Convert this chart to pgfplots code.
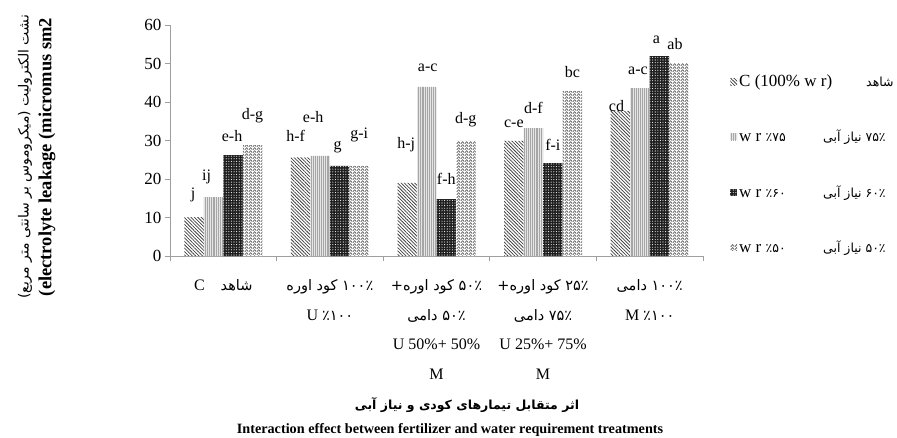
\documentclass[border=0pt]{standalone}
\usepackage{fontspec}
\setmainfont{Liberation Serif}
\newfontfamily\fa[Script=Arabic]{DejaVu Sans}
\TeXXeTstate=1
\usepackage{pgfplots}
\usepackage{pgfplotstable}
\pgfplotsset{compat=1.18}
\usetikzlibrary{patterns.meta}

% herringbone-like fill for the 50% water requirement bars
\tikzdeclarepattern{
  name=zigzag,
  type=uncolored,
  bottom left={(0pt,0pt)},
  top right={(3.6pt,2.8pt)},
  tile size={(3.6pt,2.8pt)},
  code={
    \draw[line width=0.8pt] (0pt,0.4pt) -- (1.8pt,2.4pt) -- (3.6pt,0.4pt);
  }
}

\newcommand{\lbl}{\fontsize{16}{29.5}\selectfont}
\newcommand{\fasz}{\fontsize{14.5}{29.5}\selectfont}
\newcommand{\falg}{\fontsize{12.5}{15}\selectfont}

% x = treatment, y = leakage, lab = mean separation letters, dx/dy = label offset (pt)
\pgfplotstableread{
x y    lab dx dy
0 10.1 j   -1 12
1 25.6 h-f -5 13
2 19.0 h-j -1 28
3 29.9 c-e 0  10
4 37.7 cd  -4 -4
}\wrHundred
\pgfplotstableread{
x y    lab dx dy
0 15.3 ij  -7 10
1 26.0 e-h -7 30
2 43.9 a-c 1  12
3 33.2 d-f 0  11
4 43.6 a-c -2 10
}\wrSeventyFive
\pgfplotstableread{
x y    lab dx dy
0 26.2 e-h -1 10
1 23.4 g   -2 10
2 14.8 f-h 0  11
3 24.1 f-i 0  10
4 51.9 a   -3 9
}\wrSixty
\pgfplotstableread{
x y    lab dx dy
0 28.8 d-g 0  19
1 23.4 g-i 0  21
2 29.9 d-g 0  11
3 42.9 bc  0  10
4 50.1 ab  -4 10
}\wrFifty

\begin{document}
\begin{tikzpicture}
\useasboundingbox (-170pt,-181pt) rectangle (727pt,256pt);
\begin{axis}[
  at={(0pt,0pt)}, anchor=south west,
  width=533pt, height=231pt, scale only axis,
  xmin=-0.5, xmax=4.5, ymin=0, ymax=60,
  ytick={0,10,...,60},
  axis x line=bottom, axis y line=left,
  axis line style={-, draw=gray!75, line width=0.8pt},
  tick align=outside,
  major tick length=5pt,
  tick style={draw=gray!75, line width=0.8pt},
  xtick={-0.5,0.5,1.5,2.5,3.5,4.5},
  x tick label as interval,
  xticklabels={
    {C\quad{\fasz\fa\beginR شاهد\endR}},
    {{\fasz\fa\beginR ۱۰۰٪ کود اوره\endR}\\U {\fasz\fa ٪۱۰۰}},
    {{\fasz\fa\beginR ۵۰٪ کود اوره+\endR}\\{\fasz\fa\beginR ۵۰٪ دامی\endR}\\U 50\%+ 50\%\\M},
    {{\fasz\fa\beginR ۲۵٪ کود اوره+\endR}\\{\fasz\fa\beginR ۷۵٪ دامی\endR}\\U 25\%+ 75\%\\M},
    {{\fasz\fa\beginR ۱۰۰٪ دامی\endR}\\M {\fasz\fa ٪۱۰۰}}
  },
  xticklabel style={align=center, font=\lbl, anchor=north, yshift=-15pt},
  yticklabel style={font=\fontsize{17}{20}\selectfont},
  /pgf/number format/assume math mode=true,
  ybar=0pt, bar width=19.5pt,
  clip=false,
  legend style={
    at={(1.045,0.802)}, anchor=north west,
    draw=none, fill=none, font=\fontsize{17}{20}\selectfont,
    row sep=38pt, cells={anchor=west},
  },
  legend image code/.code={
    \draw[draw=none,#1] (0pt,-3.5pt) rectangle (7pt,3.5pt);
  },
  lettered/.style={
    nodes near coords,
    point meta=explicit symbolic,
    visualization depends on={\thisrow{dx}\as\labdx},
    visualization depends on={\thisrow{dy}\as\labdy},
    every node near coord/.append style={font=\lbl, anchor=south, inner sep=3pt,
      xshift=\labdx pt, yshift=\labdy pt},
  },
]
% control (100% water requirement)
\addplot[draw=none, fill=white, lettered,
  postaction={pattern={Lines[angle=-45,distance=2.4pt,line width=0.75pt]}, pattern color=black!75}]
  table[x=x, y=y, meta=lab] {\wrHundred};
% 75% water requirement
\addplot[draw=none, fill=gray!20, lettered,
  postaction={pattern={Lines[angle=90,distance=1.9pt,line width=0.6pt]}, pattern color=gray!70}]
  table[x=x, y=y, meta=lab] {\wrSeventyFive};
% 60% water requirement
\addplot[draw=none, fill=black!88, lettered,
  postaction={pattern={Dots[distance=2.6pt,radius=0.55pt]}, pattern color=white}]
  table[x=x, y=y, meta=lab] {\wrSixty};
% 50% water requirement
\addplot[draw=none, fill=white, lettered,
  postaction={pattern=zigzag, pattern color=black!60}]
  table[x=x, y=y, meta=lab] {\wrFifty};
\addlegendentry{C (100\% w r)\hspace{2em}{\falg\fa\beginR شاهد\endR}}
\addlegendentry{w r {\falg\fa ٪۷۵}\hspace{2.2em}{\falg\fa\beginR ۷۵٪ نیاز آبی\endR}}
\addlegendentry{w r {\falg\fa ٪۶۰}\hspace{2.2em}{\falg\fa\beginR ۶۰٪ نیاز آبی\endR}}
\addlegendentry{w r {\falg\fa ٪۵۰}\hspace{2.2em}{\falg\fa\beginR ۵۰٪ نیاز آبی\endR}}
\end{axis}
% axis titles
\node[rotate=90, font=\fontsize{14}{16}\selectfont\fa] at (-145pt,99pt)
  {\beginR نشت الکترولیت (میکروموس بر سانتی متر مربع)\endR};
\node[rotate=90, font=\fontsize{18.5}{20}\selectfont\bfseries] at (-123pt,99pt)
  {(electrolyte leakage (micromus sm2};
\node[font=\fontsize{12.5}{14}\selectfont\fa\bfseries] at (297pt,-149pt)
  {\beginR اثر متقابل تیمارهای کودی و نیاز آبی\endR};
\node[font=\fontsize{14.2}{16}\selectfont\bfseries] at (280pt,-174pt)
  {Interaction effect between fertilizer and water requirement treatments};
\end{tikzpicture}
\end{document}
